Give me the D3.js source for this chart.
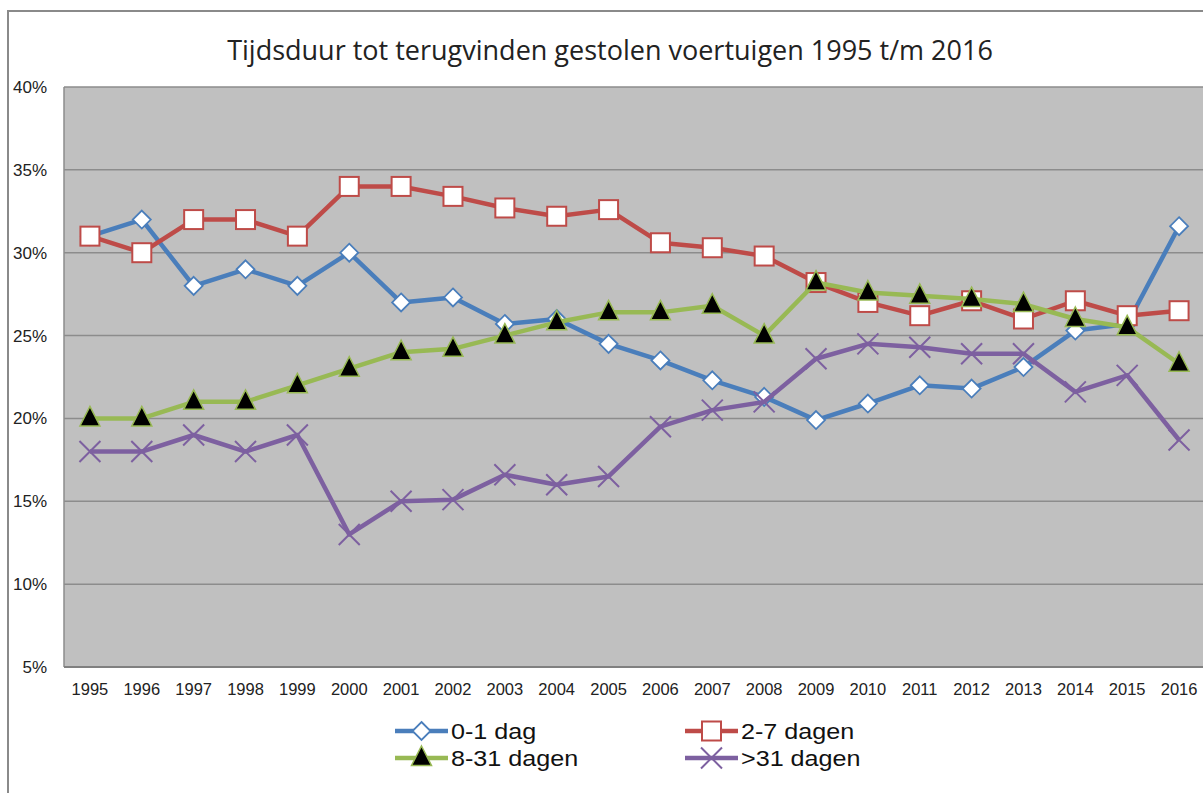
<!DOCTYPE html>
<html><head><meta charset="utf-8">
<script src="https://cdn.jsdelivr.net/npm/d3@7"></script>
<style>body{margin:0;background:#fff}svg{display:block}</style>
</head><body>
<script>
const years = ["1995","1996","1997","1998","1999","2000","2001","2002","2003","2004","2005","2006","2007","2008","2009","2010","2011","2012","2013","2014","2015","2016"];
const dag01 = [31,32,28,29,28,30,27,27.3,25.7,26.0,24.5,23.5,22.3,21.3,19.9,20.9,22.0,21.8,23.1,25.3,25.7,31.6];
const dagen27 = [31,30,32,32,31,34,34,33.4,32.7,32.2,32.6,30.6,30.3,29.8,28.2,27.0,26.2,27.1,26.0,27.1,26.2,26.5];
const dagen831 = [20,20,21,21,22,23,24,24.2,25,25.8,26.4,26.4,26.8,25.0,28.2,27.6,27.4,27.2,26.9,26.0,25.5,23.3];
const dagen31 = [18,18,19,18,19,13,15,15.1,16.6,16.0,16.5,19.5,20.5,21.0,23.6,24.5,24.3,23.9,23.9,21.6,22.6,18.7];
const yTicks = [5,10,15,20,25,30,35,40];
const seriesNames = ["0-1 dag","2-7 dagen","8-31 dagen",">31 dagen"];
const title = "Tijdsduur tot terugvinden gestolen voertuigen 1995 t/m 2016";

(function(){
const W = 1203, H = 793;
const svg = d3.select("body").append("svg").attr("width", W).attr("height", H);

svg.append("rect").attr("x",8).attr("y",11).attr("width",W+20).attr("height",H+20)
  .attr("fill","#fff").attr("stroke","#8a8a8a").attr("stroke-width",2);

const pL = 64, pT = 87, pB = 667, pR = 1205;
const x = d3.scaleBand().domain(years).range([pL, pR]);
const y = d3.scaleLinear().domain([5,40]).range([pB, pT]);

svg.append("rect").attr("x",pL).attr("y",pT).attr("width",pR-pL).attr("height",pB-pT)
  .attr("fill","#c0c0c0");

svg.append("g").selectAll("line").data(yTicks).join("line")
  .attr("x1",pL).attr("x2",pR).attr("y1",d=>y(d)).attr("y2",d=>y(d))
  .attr("stroke","#8c8c8c").attr("stroke-width",1.5);
svg.append("line").attr("x1",pL).attr("x2",pL).attr("y1",pT).attr("y2",pB)
  .attr("stroke","#8c8c8c").attr("stroke-width",1.5);
svg.append("line").attr("x1",pL).attr("x2",pR).attr("y1",pB).attr("y2",pB)
  .attr("stroke","#808080").attr("stroke-width",2);

svg.append("g").selectAll("text").data(yTicks).join("text")
  .attr("x",47).attr("y",d=>y(d)+6).attr("text-anchor","end")
  .attr("font-family","Liberation Sans, Arial, sans-serif").attr("font-size",17).attr("fill","#222")
  .text(d=>d+"%");
svg.append("g").selectAll("text").data(years).join("text")
  .attr("x",d=>x(d)+x.bandwidth()/2).attr("y",695).attr("text-anchor","middle")
  .attr("font-family","Liberation Sans, Arial, sans-serif").attr("font-size",16.5).attr("fill","#222")
  .text(d=>d);

svg.append("text").attr("x",610).attr("y",60).attr("text-anchor","middle")
  .attr("font-family","Open Sans, Noto Sans, sans-serif").attr("font-size",27).attr("fill","#222")
  .text(title);

const cx = d => x(d)+x.bandwidth()/2;
const series = [
  {name:seriesNames[0], vals:dag01, color:"#4a7ebb", marker:"diamond"},
  {name:seriesNames[1], vals:dagen27, color:"#be4b48", marker:"square"},
  {name:seriesNames[2], vals:dagen831, color:"#98b954", marker:"triangle"},
  {name:seriesNames[3], vals:dagen31, color:"#7d60a0", marker:"x"}
];

function drawMarker(g, type, color, px, py){
  if(type==="diamond"){
    const s=9;
    g.append("path").attr("d",`M${px},${py-s}L${px+s},${py}L${px},${py+s}L${px-s},${py}Z`)
      .attr("fill","#fff").attr("stroke",color).attr("stroke-width",1.8);
  } else if(type==="square"){
    const s=9.5;
    g.append("rect").attr("x",px-s).attr("y",py-s).attr("width",2*s).attr("height",2*s)
      .attr("fill","#fff").attr("stroke",color).attr("stroke-width",2);
  } else if(type==="triangle"){
    g.append("path").attr("d",`M${px},${py-12}L${px+10},${py+7.5}L${px-10},${py+7.5}Z`)
      .attr("fill","#000").attr("stroke",color).attr("stroke-width",1.5);
  } else {
    const s=10.5;
    g.append("path").attr("d",`M${px-s},${py-s}L${px+s},${py+s}M${px-s},${py+s}L${px+s},${py-s}`)
      .attr("stroke",color).attr("stroke-width",2).attr("fill","none");
  }
}

const line = d3.line().x((d,i)=>cx(years[i])).y(d=>y(d));
series.forEach(s=>{
  const g = svg.append("g");
  g.append("path").datum(s.vals).attr("d",line).attr("fill","none")
    .attr("stroke",s.color).attr("stroke-width",4.5).attr("stroke-linejoin","round");
  s.vals.forEach((v,i)=>drawMarker(g, s.marker, s.color, cx(years[i]), y(v)));
});

const legPos = [[395,731],[685,731],[395,758],[685,758]];
series.forEach((s,i)=>{
  const [lx,ly]=legPos[i];
  const g = svg.append("g");
  g.append("line").attr("x1",lx).attr("x2",lx+53).attr("y1",ly).attr("y2",ly)
    .attr("stroke",s.color).attr("stroke-width",4.5);
  drawMarker(g, s.marker, s.color, lx+26.5, ly);
  g.append("text").attr("transform",`translate(${lx+56},${ly+8}) scale(1.17,1)`)
    .attr("font-family","Liberation Sans, Arial, sans-serif").attr("font-size",21.5).attr("fill","#111")
    .text(s.name);
});
})();
</script>
</body></html>
